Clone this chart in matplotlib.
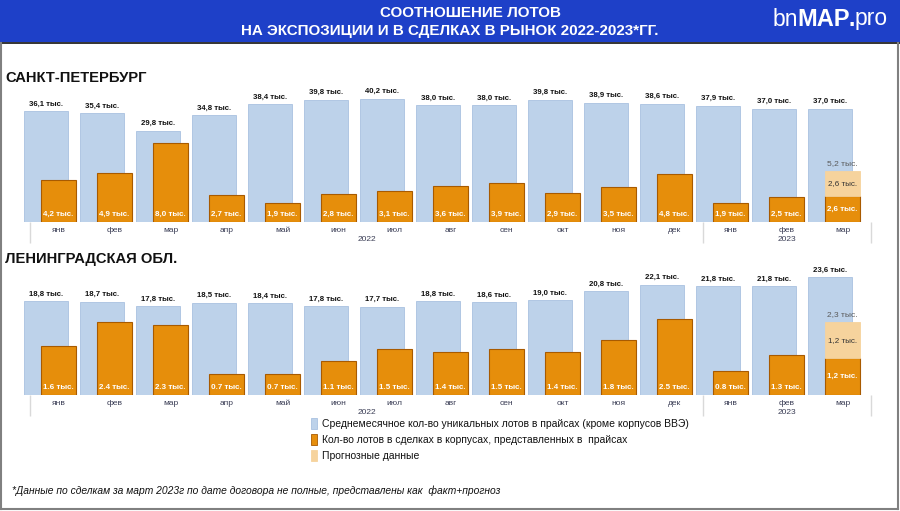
import numpy as np
import matplotlib.pyplot as plt
from matplotlib.patches import Rectangle

plt.rcParams['font.family'] = ['Liberation Sans', 'DejaVu Sans']

# --- data ---
months = ['янв', 'фев', 'мар', 'апр', 'май', 'июн', 'июл', 'авг', 'сен', 'окт', 'ноя', 'дек',
          'янв', 'фев', 'мар']
years = ['2022', '2023']
year_span = [(0, 11), (12, 14)]

spb_stock = [36.1, 35.4, 29.8, 34.8, 38.4, 39.8, 40.2, 38.0, 38.0, 39.8, 38.9, 38.6, 37.9, 37.0, 37.0]
spb_deals = [4.2, 4.9, 8.0, 2.7, 1.9, 2.8, 3.1, 3.6, 3.9, 2.9, 3.5, 4.8, 1.9, 2.5, 2.6]
spb_forecast = 2.6
spb_total = 5.2

lo_stock = [18.8, 18.7, 17.8, 18.5, 18.4, 17.8, 17.7, 18.8, 18.6, 19.0, 20.8, 22.1, 21.8, 21.8, 23.6]
lo_deals = [1.6, 2.4, 2.3, 0.7, 0.7, 1.1, 1.5, 1.4, 1.5, 1.4, 1.8, 2.5, 0.8, 1.3, 1.2]
lo_forecast = 1.2
lo_total = 2.3

legend_labels = ['Среднемесячное кол-во уникальных лотов в прайсах (кроме корпусов ВВЭ)',
                 'Кол-во лотов в сделках в корпусах, представленных в  прайсах',
                 'Прогнозные данные']

BLUE = '#BDD2EA'
BLUE_EDGE = '#A9C1E0'
ORANGE = '#E68E0B'
ORANGE_EDGE = '#A85A00'
PEACH = '#F6D39D'
HEADER = '#1E40C8'

W, H = 900, 511
fig = plt.figure(figsize=(9, 5.11), dpi=100)

# background overlay in pixel units (header, legend, borders)
bg = fig.add_axes([0, 0, 1, 1])
bg.set_xlim(0, W)
bg.set_ylim(H, 0)
bg.axis('off')

bg.add_patch(Rectangle((0, 0), W, 42.5, color=HEADER, lw=0))
bg.plot([0, W], [43, 43], color='#101010', lw=1.2)
bg.plot([1, 1], [43, 509], color='#808080', lw=1.5)
bg.plot([897.5, 897.5], [43, 509], color='#808080', lw=1.5)
bg.plot([1, 897.5], [509, 509], color='#808080', lw=1.5)

bg.text(470, 13, 'СООТНОШЕНИЕ ЛОТОВ', ha='center', va='center', color='white',
        fontsize=10.9, weight='bold')
bg.text(450, 31, 'НА ЭКСПОЗИЦИИ И В СДЕЛКАХ В РЫНОК 2022-2023*ГГ.', ha='center', va='center',
        color='white', fontsize=10.9, weight='bold')

# logo
t1 = bg.text(773, 19, 'bn', ha='left', va='center', color='white', fontsize=16.5)
t2 = bg.annotate('MAP', xy=(1, 0), xycoords=t1, xytext=(-1, 0), textcoords='offset points',
                 ha='left', va='bottom', color='white', fontsize=17, weight='bold')
t3 = bg.annotate('.', xy=(1, 0), xycoords=t2, xytext=(-0.5, 0), textcoords='offset points',
                 ha='left', va='bottom', color='white', fontsize=16.5, weight='bold')
bg.annotate('pro', xy=(1, 0), xycoords=t3, xytext=(-0.5, 0), textcoords='offset points',
            ha='left', va='bottom', color='white', fontsize=16.5)


def fmt(v, sep=','):
    return f'{v:.1f}'.replace('.', sep) + ' тыс.'


def draw_region(title, title_y, top, bottom, stock, deals, forecast, total,
                stock_max, deals_max, deal_sep):
    bg.text(5, title_y, title, ha='left', va='center', fontsize=10.6, weight='bold',
            color='#111111')
    ax = fig.add_axes([19.3 / W, 1 - bottom / H, (870.5 - 19.3) / W, (bottom - top) / H])
    ax.patch.set_visible(False)
    axo = ax.twinx()
    axo.patch.set_visible(False)
    x = np.arange(len(stock))
    ax.bar(x - 0.223, stock, width=0.786, color=BLUE, edgecolor=BLUE_EDGE, lw=0.6)
    axo.bar(x, deals, width=0.625, color=ORANGE, edgecolor=ORANGE_EDGE, lw=0.8)
    axo.bar(x[-1], forecast, bottom=deals[-1], width=0.625, color=PEACH,
            edgecolor=PEACH, lw=0.6)
    for a in (ax, axo):
        a.set_xlim(-0.7, 14.5)
        for s in a.spines.values():
            s.set_visible(False)
        a.set_xticks([])
        a.set_yticks([])
    ax.set_ylim(0, stock_max)
    axo.set_ylim(0, deals_max)

    for xi, v in zip(x, stock):
        ax.annotate(fmt(v), (xi - 0.223, v), xytext=(0, 5.3), textcoords='offset points',
                    ha='center', va='center', fontsize=5.6, weight='bold', color='#111111')
    for xi, v in zip(x[:-1], deals[:-1]):
        axo.annotate(fmt(v, deal_sep), (xi, 0), xytext=(0, 5.3), textcoords='offset points',
                     ha='center', va='center', fontsize=5.8, weight='bold', color='white')
    last = x[-1]
    axo.text(last, deals[-1] / 2, fmt(deals[-1]), ha='center', va='center', fontsize=5.8,
             weight='bold', color='white')
    axo.text(last, deals[-1] + forecast / 2, fmt(forecast), ha='center', va='center',
             fontsize=5.8, color='#333333')
    axo.annotate(fmt(total), (last, deals[-1] + forecast), xytext=(0, 5.3),
                 textcoords='offset points', ha='center', va='center', fontsize=6,
                 color='#5A5A5A')

    # category axis
    h = bottom - top
    for xi, m in zip(x, months):
        ax.annotate(m, (xi, 0), xycoords=('data', 'axes fraction'), xytext=(0, -6.3),
                    textcoords='offset points', ha='center', va='center', fontsize=6,
                    color='#3A3D55')
    for yr, (a0, a1) in zip(years, year_span):
        ax.annotate(yr, ((a0 + a1) / 2, 0), xycoords=('data', 'axes fraction'),
                    xytext=(0, -12.5), textcoords='offset points', ha='center', va='center',
                    fontsize=6, color='#3A3D55')
    seps = [-0.5, 11.5, 14.5]
    ax.vlines(seps, -21 / h, 0, transform=ax.get_xaxis_transform(), color='#D9D9D9',
              lw=1, clip_on=False)


draw_region('САНКТ-ПЕТЕРБУРГ', 78, 84, 222, spb_stock, spb_deals, spb_forecast, spb_total,
            45, 138 / 9.9, ',')
draw_region('ЛЕНИНГРАДСКАЯ ОБЛ.', 259, 245.6, 394.7, lo_stock, lo_deals, lo_forecast, lo_total,
            30, 149.1 / 30.2, '.')

# legend
for i, (lab, col, ec) in enumerate(zip(legend_labels, [BLUE, ORANGE, PEACH],
                                       [BLUE_EDGE, ORANGE_EDGE, PEACH])):
    yc = 424 + i * 16
    bg.add_patch(Rectangle((310.5, yc - 5.5), 6.5, 11, facecolor=col, edgecolor=ec, lw=0.6))
    bg.text(322, yc, lab, ha='left', va='center', fontsize=7.5, color='#111111')

bg.text(12, 491, '*Данные по сделкам за март 2023г по дате договора не полные, '
        'представлены как  факт+прогноз', ha='left', va='center', fontsize=7.4,
        style='italic', color='#111111')

fig.savefig('out.png', dpi=100)
